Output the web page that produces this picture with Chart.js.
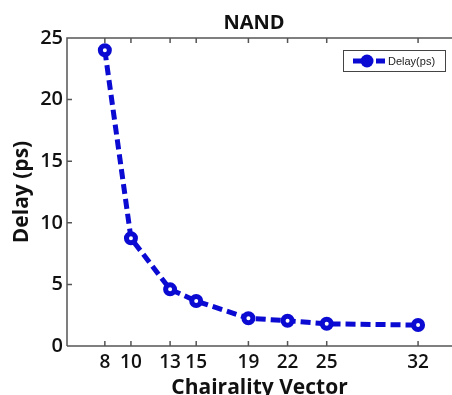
<!DOCTYPE html>
<html>
<head>
<meta charset="utf-8">
<script src="https://cdn.jsdelivr.net/npm/chart.js@4.4.0/dist/chart.umd.min.js"></script>
<style>
  html, body { margin: 0; padding: 0; background: #fff; }
  #wrap { width: 452px; height: 395px; }
</style>
</head>
<body>
<div id="wrap"><canvas id="chart_0"></canvas></div>
<script>
var chirality = [8, 10, 13, 15, 19, 22, 25, 32];
var delayValues = [24.0, 8.75, 4.6, 3.65, 2.25, 2.05, 1.8, 1.7];
var yTicks = [0, 5, 10, 15, 20, 25];
var lineColor = "#0a0ad2";
var fontFam = "'Open Sans', sans-serif";

// MATLAB-ish inward ticks, top border, title and boxed legend
var matlabBox = {
  id: "matlabBox",
  afterDraw: function (chart) {
    var ctx = chart.ctx, a = chart.chartArea;
    var xs = chart.scales.x, ys = chart.scales.y;
    ctx.save();
    ctx.strokeStyle = "#555";
    ctx.lineWidth = 1.5;
    ctx.beginPath();
    ctx.moveTo(a.left, a.bottom); ctx.lineTo(a.left, a.top); ctx.lineTo(a.right, a.top);
    ctx.moveTo(a.left, a.bottom); ctx.lineTo(a.right, a.bottom);
    chirality.forEach(function (v) {
      var px = xs.getPixelForValue(v);
      ctx.moveTo(px, a.bottom); ctx.lineTo(px, a.bottom - 5);
      ctx.moveTo(px, a.top); ctx.lineTo(px, a.top + 5);
    });
    yTicks.forEach(function (v) {
      var py = ys.getPixelForValue(v);
      ctx.moveTo(a.left, py); ctx.lineTo(a.left + 5, py);
    });
    ctx.stroke();

    // title
    ctx.fillStyle = "#111";
    ctx.font = "bold 20px " + fontFam;
    ctx.textAlign = "center";
    ctx.textBaseline = "middle";
    ctx.fillText("NAND", 254, 23.5);

    // legend
    var lx = 343, ly = 50, lw = 102, lh = 21;
    ctx.fillStyle = "#fff";
    ctx.fillRect(lx, ly, lw, lh);
    ctx.strokeStyle = "#444";
    ctx.lineWidth = 1;
    ctx.strokeRect(lx + 0.5, ly + 0.5, lw, lh);
    ctx.strokeStyle = lineColor;
    ctx.lineWidth = 5;
    ctx.beginPath();
    ctx.moveTo(lx + 10, ly + 11); ctx.lineTo(lx + 28, ly + 11);
    ctx.moveTo(lx + 33, ly + 11); ctx.lineTo(lx + 42, ly + 11);
    ctx.stroke();
    ctx.fillStyle = lineColor;
    ctx.beginPath();
    ctx.arc(lx + 24, ly + 11, 6.5, 0, Math.PI * 2);
    ctx.fill();
    ctx.fillStyle = "#222";
    ctx.font = "11px 'Liberation Sans', Arial, sans-serif";
    ctx.textAlign = "left";
    ctx.fillText("Delay(ps)", lx + 45, ly + 11.5);
    ctx.restore();
  }
};

new Chart("chart_0", {
  type: "line",
  data: {
    datasets: [{
      label: "Delay(ps)",
      data: chirality.map(function (c, i) { return { x: c, y: delayValues[i] }; }),
      borderColor: lineColor,
      borderWidth: 5,
      borderDash: [10, 5],
      pointRadius: 4.5,
      pointBorderWidth: 5,
      pointBackgroundColor: "#fff",
      pointBorderColor: lineColor,
      tension: 0,
      fill: false
    }]
  },
  options: {
    responsive: true,
    maintainAspectRatio: false,
    animation: false,
    layout: { autoPadding: false, padding: { top: 38, left: 0, right: 0, bottom: 0 } },
    plugins: {
      legend: { display: false },
      tooltip: { enabled: false },
      title: { display: false }
    },
    scales: {
      x: {
        type: "linear",
        min: 5.1,
        max: 34.6,
        afterBuildTicks: function (s) { s.ticks = chirality.map(function (v) { return { value: v }; }); },
        afterFit: function (s) { s.height = 49; s.paddingLeft = 0; s.paddingRight = 0; },
        grid: { display: false, drawTicks: false },
        border: { display: false },
        ticks: {
          color: "#111",
          padding: 5,
          maxRotation: 0,
          autoSkip: false,
          font: { family: fontFam, size: 19, weight: "600" }
        },
        title: {
          display: true,
          text: "Chairality Vector",
          color: "#111",
          padding: { top: 0, bottom: -6 },
          font: { family: fontFam, size: 21, weight: "bold" }
        }
      },
      y: {
        min: 0,
        max: 25,
        afterBuildTicks: function (s) { s.ticks = yTicks.map(function (v) { return { value: v }; }); },
        afterFit: function (s) { s.width = 67; s.paddingTop = 0; s.paddingBottom = 0; },
        grid: { display: false, drawTicks: false },
        border: { display: false },
        ticks: {
          color: "#111",
          padding: 4,
          font: { family: fontFam, size: 20, weight: "600" }
        },
        title: {
          display: true,
          text: "Delay (ps)",
          color: "#111",
          padding: { top: 9, bottom: 0 },
          font: { family: fontFam, size: 21, weight: "bold" }
        }
      }
    }
  },
  plugins: [matlabBox]
});
</script>
</body>
</html>
